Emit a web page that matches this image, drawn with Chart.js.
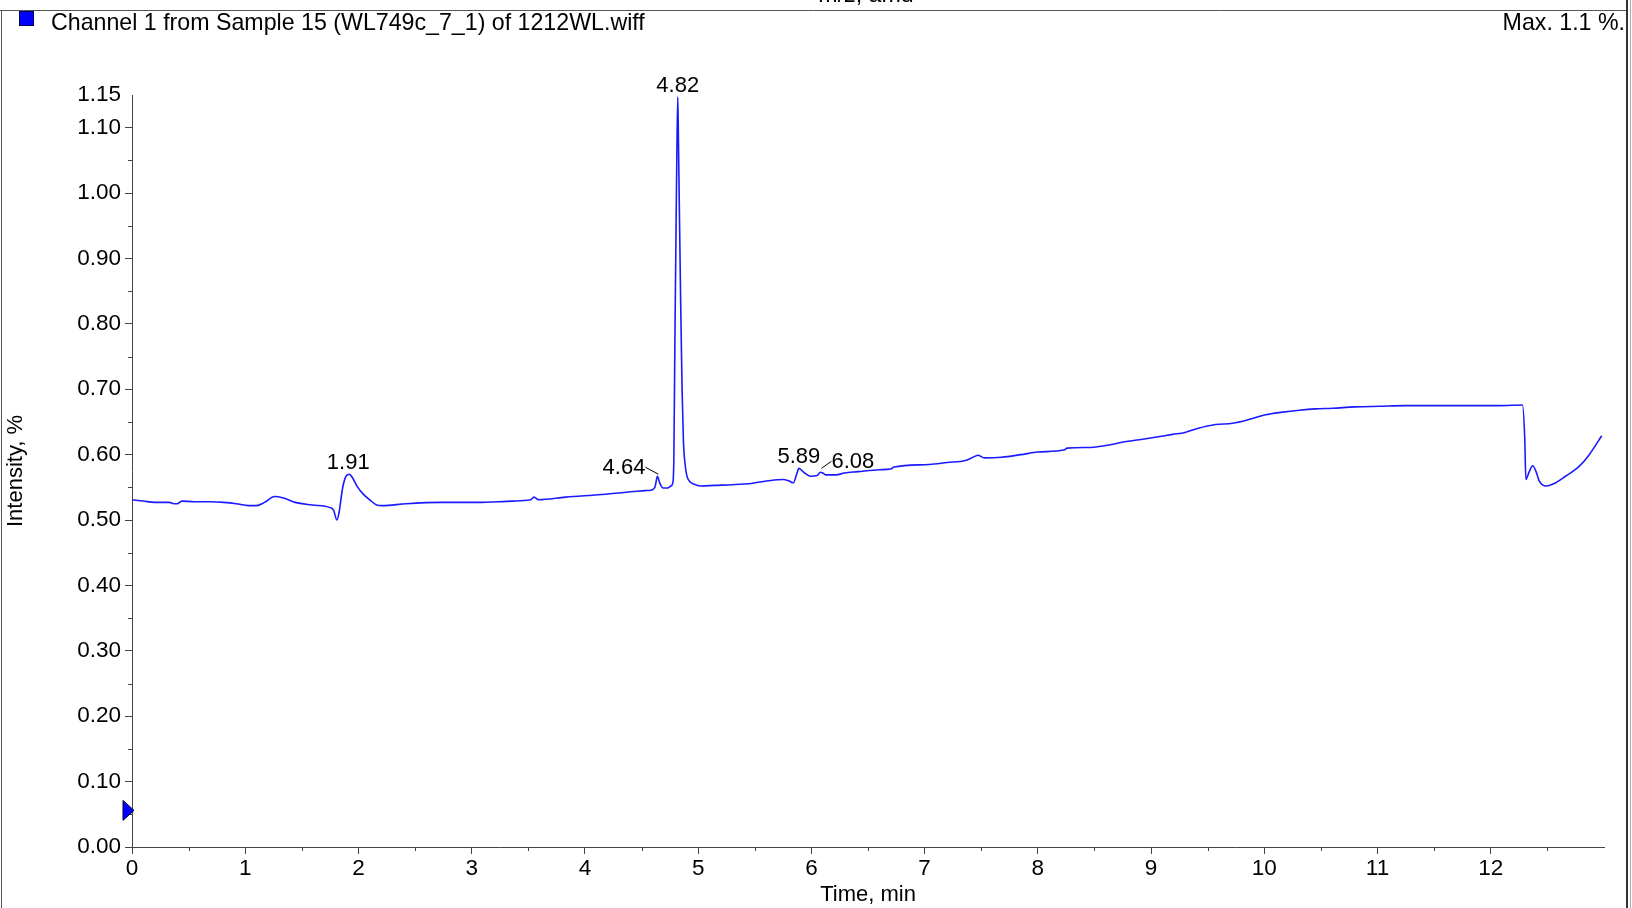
<!DOCTYPE html>
<html>
<head>
<meta charset="utf-8">
<script src="https://cdn.jsdelivr.net/npm/chart.js@4"></script>
<style>
html,body{margin:0;padding:0;background:#fff;}
canvas{display:block;}
</style>
</head>
<body>
<canvas id="c" width="1632" height="908"></canvas>
<script>
// ---- data ----
const times = [
  0.00,0.10,0.20,0.33,0.37,0.40,0.44,0.55,0.70,0.81,0.92,1.03,1.10,1.17,1.26,1.33,1.44,1.59,1.75,1.78,
  1.81,1.83,1.86,1.89,1.92,1.95,1.99,2.04,2.10,2.16,2.21,2.42,2.73,3.05,3.36,3.52,3.55,3.59,3.83,4.15,
  4.46,4.53,4.59,4.62,4.64,4.66,4.69,4.73,4.76,4.775,4.785,4.795,4.805,4.812,4.820,4.826,4.833,4.845,4.858,4.870,
  4.885,4.900,4.930,4.960,5.02,5.15,5.30,5.47,5.62,5.75,5.80,5.84,5.87,5.89,5.92,5.94,5.99,6.05,6.08,6.10,
  6.13,6.22,6.29,6.41,6.60,6.70,6.73,7.04,7.20,7.36,7.44,7.47,7.53,7.68,7.85,8.00,8.23,8.26,8.47,8.60,
  8.78,8.94,9.05,9.19,9.30,9.41,9.57,9.72,9.87,10.01,10.16,10.31,10.45,10.60,10.80,11.02,11.25,11.49,11.75,12.08,
  12.28,12.30,12.31,12.34,12.37,12.40,12.43,12.49,12.55,12.66,12.78,12.87,12.98
];
const intensity = [
  0.531,0.529,0.527,0.527,0.525,0.525,0.529,0.528,0.528,0.527,0.525,0.522,0.522,0.527,0.536,0.534,0.527,0.523,0.519,0.515,
  0.500,0.513,0.549,0.567,0.570,0.564,0.551,0.540,0.531,0.523,0.522,0.525,0.527,0.527,0.529,0.531,0.535,0.531,0.535,0.539,
  0.544,0.545,0.546,0.551,0.567,0.557,0.549,0.549,0.552,0.556,0.590,0.780,0.950,1.060,1.147,1.080,0.990,0.840,0.700,0.620,
  0.585,0.568,0.558,0.555,0.552,0.553,0.554,0.556,0.560,0.562,0.560,0.557,0.570,0.579,0.575,0.572,0.567,0.568,0.573,0.572,
  0.569,0.569,0.572,0.574,0.577,0.578,0.581,0.585,0.588,0.591,0.597,0.599,0.595,0.596,0.600,0.604,0.607,0.610,0.611,0.614,
  0.620,0.624,0.627,0.631,0.634,0.640,0.646,0.648,0.654,0.661,0.665,0.668,0.670,0.671,0.673,0.674,0.675,0.675,0.675,0.675,
  0.676,0.625,0.562,0.574,0.583,0.574,0.559,0.552,0.555,0.567,0.582,0.600,0.629
];
const xTickValues = [0,1,2,3,4,5,6,7,8,9,10,11,12];
const xMinorValues = [0.5,1.5,2.5,3.5,4.5,5.5,6.5,7.5,8.5,9.5,10.5,11.5,12.5];
const yTickValues = [0,0.1,0.2,0.3,0.4,0.5,0.6,0.7,0.8,0.9,1.0,1.1,1.15];
const yMinorValues = [0.05,0.15,0.25,0.35,0.45,0.55,0.65,0.75,0.85,0.95,1.05];
const peakLabels = [
  {t:1.91, v:0.570, text:'1.91', mode:'center'},
  {t:4.64, v:0.567, text:'4.64', mode:'left'},
  {t:4.82, v:1.147, text:'4.82', mode:'center'},
  {t:5.89, v:0.579, text:'5.89', mode:'center'},
  {t:6.08, v:0.573, text:'6.08', mode:'right'}
];
const markerValue = 0.056;
const headerText = 'Channel 1 from Sample 15 (WL749c_7_1) of 1212WL.wiff';
const maxText = 'Max. 1.1 %.';
const topCutText = 'm/z, amu';
const xTitle = 'Time, min';
const yTitle = 'Intensity, %';

const FONT = 'Arial, "Liberation Sans", sans-serif';
const AXIS = '#444';

const decor = {
  id:'decor',
  beforeDraw(chart){
    const c = chart.ctx;
    c.save();
    c.fillStyle = '#fff';
    c.fillRect(0,0,chart.width,chart.height);
    c.restore();
  },
  afterDraw(chart){
    const c = chart.ctx;
    const xs = chart.scales.x, ys = chart.scales.y;
    const a = chart.chartArea;
    c.save();
    // frame
    c.strokeStyle = '#555'; c.lineWidth = 1;
    c.beginPath(); c.moveTo(0,10.5); c.lineTo(1627,10.5); c.stroke();
    c.beginPath(); c.moveTo(1.5,10); c.lineTo(1.5,908); c.stroke();
    c.strokeStyle = '#333'; c.lineWidth = 2;
    c.beginPath(); c.moveTo(1627,0); c.lineTo(1627,908); c.stroke();
    c.strokeStyle = '#aaa'; c.lineWidth = 1;
    c.beginPath(); c.moveTo(1630.5,0); c.lineTo(1630.5,908); c.stroke();
    // minor ticks
    c.strokeStyle = AXIS; c.lineWidth = 1;
    xMinorValues.forEach(v=>{
      const px = Math.round(xs.getPixelForValue(v))+0.5;
      c.beginPath(); c.moveTo(px,a.bottom); c.lineTo(px,a.bottom+4); c.stroke();
    });
    yMinorValues.forEach(v=>{
      const py = Math.round(ys.getPixelForValue(v))+0.5;
      c.beginPath(); c.moveTo(a.left,py); c.lineTo(a.left-4,py); c.stroke();
    });
    // header
    c.fillStyle = '#0000ff'; c.fillRect(19,11,15,15);
    c.strokeStyle = '#000060'; c.lineWidth = 1; c.strokeRect(19.5,11.5,14,14);
    c.fillStyle = '#000';
    c.font = '23.2px ' + FONT;
    c.textBaseline = 'alphabetic';
    c.textAlign = 'left';
    c.fillText(headerText, 51, 30);
    c.textAlign = 'right';
    c.fillText(maxText, 1625, 30);
    c.textAlign = 'center';
    c.fillText(topCutText, 866, 2);
    // marker triangle on y axis
    const my = ys.getPixelForValue(markerValue);
    c.beginPath();
    c.moveTo(a.left+2, my);
    c.lineTo(a.left-9, my-10);
    c.lineTo(a.left-9, my+10);
    c.closePath();
    c.fillStyle = '#0000ff'; c.fill();
    c.strokeStyle = '#000033'; c.lineWidth = 1; c.stroke();
    // peak labels
    c.font = '22px ' + FONT;
    c.fillStyle = '#000';
    c.strokeStyle = '#000'; c.lineWidth = 1;
    peakLabels.forEach(p=>{
      const px = xs.getPixelForValue(p.t), py = ys.getPixelForValue(p.v);
      if (p.mode === 'center') {
        c.textAlign = 'center';
        c.fillText(p.text, px, py-5);
      } else if (p.mode === 'left') {
        c.textAlign = 'right';
        c.fillText(p.text, px-12, py-2);
        c.beginPath(); c.moveTo(px-12, py-9); c.lineTo(px+1, py-2); c.stroke();
      } else {
        c.textAlign = 'left';
        c.fillText(p.text, px+11, py-4);
        c.beginPath(); c.moveTo(px+1, py-4); c.lineTo(px+11, py-11); c.stroke();
      }
    });
    c.restore();
  }
};

const tickFont = {family: FONT, size: 22.5};
new Chart(document.getElementById('c'), {
  type: 'line',
  data: {
    datasets: [{
      data: times.map((t,i)=>({x:t, y:intensity[i]})),
      borderColor: '#1a1aff',
      borderWidth: 1.6,
      pointRadius: 0,
      fill: false,
      cubicInterpolationMode: 'monotone'
    }]
  },
  options: {
    responsive: false,
    animation: false,
    devicePixelRatio: 1,
    layout: {padding: {top: 95, right: 28, left: 0, bottom: 0}},
    plugins: {legend: {display: false}, tooltip: {enabled: false}, title: {display: false}},
    scales: {
      x: {
        type: 'linear', min: 0, max: 13,
        afterBuildTicks: s => { s.ticks = xTickValues.map(v=>({value:v})); },
        afterFit: s => { s.height = 61; },
        ticks: {font: tickFont, color: '#000', padding: 1, maxRotation: 0, autoSkip: false,
                callback: v => String(v)},
        grid: {drawOnChartArea: false, drawTicks: true, tickLength: 7, tickColor: AXIS, color: AXIS},
        border: {display: true, color: AXIS, width: 1},
        title: {display: true, text: xTitle, font: {family: FONT, size: 22}, color: '#000', padding: {top: 2, bottom: 0}}
      },
      y: {
        type: 'linear', min: 0, max: 1.15,
        afterBuildTicks: s => { s.ticks = yTickValues.map(v=>({value:v})); },
        afterFit: s => { s.width = 132; },
        ticks: {font: tickFont, color: '#000', padding: 4, callback: v => Number(v).toFixed(2)},
        grid: {drawOnChartArea: false, drawTicks: true, tickLength: 7,
               tickColor: ctx => (ctx.tick && ctx.tick.value > 1.12) ? 'rgba(0,0,0,0)' : AXIS, color: AXIS},
        border: {display: true, color: AXIS, width: 1},
        title: {display: true, text: yTitle, font: {family: FONT, size: 22}, color: '#000', padding: {top: 3, bottom: 0}}
      }
    }
  },
  plugins: [decor]
});
</script>
</body>
</html>
